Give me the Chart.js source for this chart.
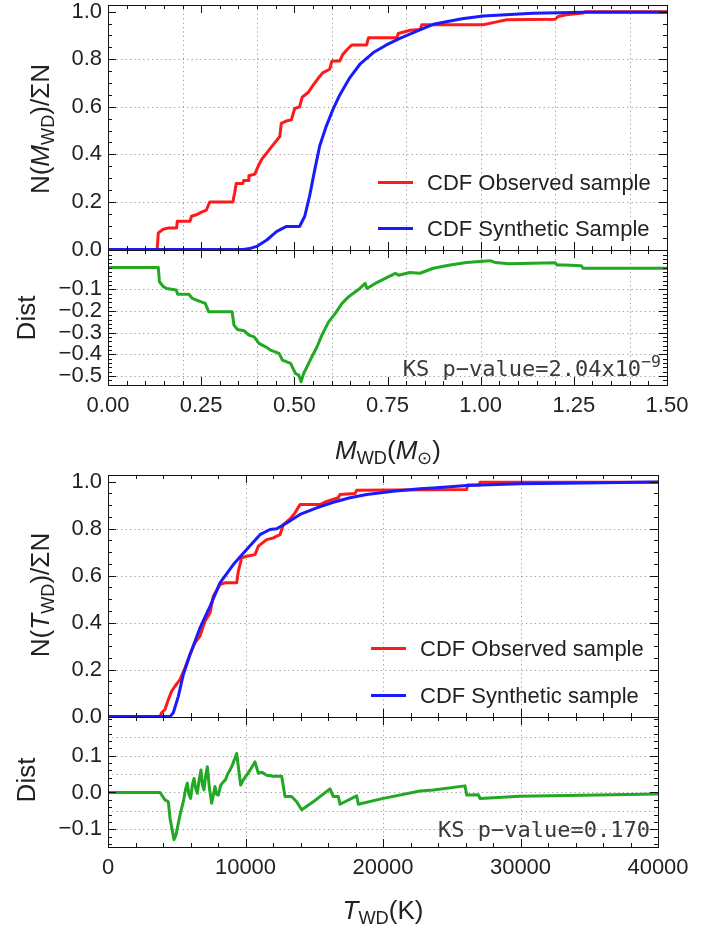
<!DOCTYPE html>
<html>
<head>
<meta charset="utf-8">
<script src="https://cdn.jsdelivr.net/npm/chart.js@4.4.1/dist/chart.umd.min.js"></script>
<style>
  html, body { margin: 0; padding: 0; background: #fff; }
  #wrap { position: relative; width: 724px; height: 937px; overflow: hidden; font-family: "Liberation Sans", Arial, sans-serif; color: #222; }
  canvas { position: absolute; left: 0; top: 0; }
  .t { position: absolute; white-space: nowrap; font-size: 26px; line-height: 1; }
  .rot { transform: translate(-50%, -50%) rotate(-90deg); }
  .ctr { transform: translate(-50%, -50%); }
  .t sub { font-size: 0.7em; vertical-align: -0.3em; font-style: normal; }
  .ks { position: absolute; font-family: "DejaVu Sans Mono", monospace; font-size: 22px; color: #3a3a3a; white-space: nowrap; line-height: 1; transform: translateY(-50%); }
  .ks sup { font-size: 0.75em; vertical-align: 0.55em; }
  .leg { position: absolute; font-size: 22px; white-space: nowrap; line-height: 1; transform: translateY(-50%); }
  .sw { position: absolute; height: 3px; width: 35px; }
</style>
</head>
<body>
<div id="wrap">
  <canvas id="cdfMass" width="724" height="937"></canvas>
  <canvas id="distMass" width="724" height="937"></canvas>
  <canvas id="cdfTemp" width="724" height="937"></canvas>
  <canvas id="distTemp" width="724" height="937"></canvas>

  <div class="t rot" style="left:42px; top:129px;">N(<i>M</i><sub>WD</sub>)/ΣN</div>
  <div class="t rot" style="left:26px; top:318px;">Dist</div>
  <div class="t ctr" style="left:388px; top:452px;"><i>M</i><sub>WD</sub>(<i>M</i><sub>⊙</sub>)</div>
  <div class="t rot" style="left:42px; top:595px;">N(<i>T</i><sub>WD</sub>)/ΣN</div>
  <div class="t rot" style="left:26px; top:780px;">Dist</div>
  <div class="t ctr" style="left:383px; top:912px;"><i>T</i><sub>WD</sub>(K)</div>

  <div class="sw" style="left:378px; top:181px; background:#ff1a1a;"></div>
  <div class="leg" style="left:427px; top:183px;">CDF Observed sample</div>
  <div class="sw" style="left:378px; top:227px; background:#1a1aff;"></div>
  <div class="leg" style="left:427px; top:229px;">CDF Synthetic Sample</div>

  <div class="sw" style="left:371px; top:647px; background:#ff1a1a;"></div>
  <div class="leg" style="left:420px; top:649px;">CDF Observed sample</div>
  <div class="sw" style="left:371px; top:694px; background:#1a1aff;"></div>
  <div class="leg" style="left:420px; top:696px;">CDF Synthetic sample</div>

  <div class="ks" style="right:63px; top:367px;">KS p−value=2.04x10<sup>−9</sup></div>
  <div class="ks" style="right:74px; top:830px;">KS p−value=0.170</div>
</div>
<script>
// mass CDFs
const massObsM = [0, 0.132, 0.135, 0.148, 0.161, 0.184, 0.186, 0.220, 0.224, 0.237, 0.251, 0.264, 0.273, 0.335, 0.340, 0.344, 0.362, 0.364, 0.376, 0.378, 0.394, 0.403, 0.412, 0.425, 0.443, 0.461, 0.465, 0.478, 0.492, 0.501, 0.514, 0.521, 0.537, 0.550, 0.564, 0.577, 0.595, 0.601, 0.622, 0.630, 0.641, 0.654, 0.694, 0.699, 0.775, 0.779, 0.811, 0.838, 0.842, 1.007, 1.043, 1.070, 1.200, 1.208, 1.230, 1.275, 1.280, 1.500];
const massObsN = [0, 0, 0.07, 0.085, 0.09, 0.09, 0.119, 0.119, 0.14, 0.146, 0.157, 0.166, 0.2, 0.2, 0.24, 0.278, 0.278, 0.29, 0.29, 0.31, 0.317, 0.35, 0.378, 0.404, 0.44, 0.475, 0.53, 0.54, 0.545, 0.593, 0.6, 0.64, 0.66, 0.69, 0.72, 0.744, 0.758, 0.793, 0.793, 0.82, 0.84, 0.86, 0.86, 0.89, 0.89, 0.908, 0.922, 0.925, 0.945, 0.945, 0.957, 0.966, 0.968, 0.98, 0.987, 0.994, 1.0, 1.0];
const massSynM = [0, 0.363, 0.380, 0.399, 0.426, 0.453, 0.479, 0.514, 0.528, 0.541, 0.555, 0.568, 0.586, 0.604, 0.622, 0.649, 0.676, 0.712, 0.747, 0.783, 0.837, 0.873, 0.950, 1.007, 1.140, 1.275, 1.500];
const massSynN = [0, 0, 0.004, 0.013, 0.04, 0.076, 0.097, 0.097, 0.14, 0.225, 0.337, 0.435, 0.52, 0.59, 0.65, 0.723, 0.779, 0.828, 0.86, 0.888, 0.923, 0.947, 0.97, 0.982, 0.993, 0.998, 0.998];
// mass distance
const distMassM = [0, 0.135, 0.138, 0.149, 0.157, 0.183, 0.187, 0.217, 0.226, 0.243, 0.261, 0.270, 0.333, 0.338, 0.347, 0.365, 0.378, 0.392, 0.405, 0.423, 0.436, 0.459, 0.468, 0.490, 0.503, 0.512, 0.518, 0.525, 0.534, 0.547, 0.561, 0.574, 0.592, 0.610, 0.628, 0.646, 0.673, 0.690, 0.695, 0.717, 0.744, 0.771, 0.780, 0.810, 0.837, 0.873, 0.918, 0.962, 1.025, 1.040, 1.075, 1.200, 1.205, 1.225, 1.270, 1.275, 1.500];
const distMassD = [0, 0, -0.065, -0.088, -0.096, -0.103, -0.123, -0.123, -0.142, -0.153, -0.165, -0.203, -0.203, -0.265, -0.285, -0.291, -0.311, -0.319, -0.349, -0.365, -0.38, -0.395, -0.426, -0.441, -0.488, -0.495, -0.526, -0.488, -0.457, -0.411, -0.365, -0.311, -0.25, -0.211, -0.165, -0.134, -0.1, -0.073, -0.096, -0.073, -0.05, -0.027, -0.035, -0.023, -0.026, -0.003, 0.012, 0.023, 0.032, 0.023, 0.018, 0.022, 0.012, 0.012, 0.008, -0.003, -0.003];
// temperature CDFs
const tempObsT = [0, 3782, 3900, 4145, 4387, 4630, 4873, 5236, 5600, 5964, 6327, 6690, 7054, 7418, 7660, 8145, 8509, 9358, 9478, 9721, 10085, 10690, 10933, 11540, 12024, 12509, 12751, 13236, 13600, 13964, 15418, 15903, 16751, 16873, 17964, 18085, 26087, 26150, 27000, 27054, 40000];
const tempObsN = [0, 0, 0.016, 0.03, 0.072, 0.108, 0.129, 0.157, 0.207, 0.264, 0.314, 0.342, 0.406, 0.441, 0.512, 0.562, 0.569, 0.569, 0.618, 0.675, 0.682, 0.689, 0.725, 0.753, 0.76, 0.774, 0.817, 0.841, 0.867, 0.902, 0.902, 0.916, 0.931, 0.945, 0.949, 0.963, 0.966, 0.985, 0.985, 0.997, 0.997];
const tempSynT = [0, 4509, 4751, 5115, 5478, 5964, 6690, 7418, 8145, 9115, 10085, 11054, 11782, 12266, 12994, 13964, 15176, 16387, 17600, 18812, 20750, 22690, 23660, 26087, 29964, 34570, 40000];
const tempSynN = [0, 0, 0.016, 0.086, 0.179, 0.264, 0.377, 0.469, 0.569, 0.647, 0.711, 0.774, 0.796, 0.799, 0.824, 0.86, 0.888, 0.912, 0.931, 0.945, 0.959, 0.969, 0.973, 0.983, 0.991, 0.994, 0.998];
// temperature distance
const distTempT = [0, 3782, 4145, 4387, 4509, 4800, 4945, 5236, 5478, 5650, 5770, 5880, 6012, 6130, 6254, 6380, 6496, 6630, 6763, 6870, 6981, 7100, 7224, 7380, 7539, 7782, 7900, 8024, 8200, 8388, 8550, 8700, 8873, 9050, 9358, 9648, 9850, 10085, 10400, 10690, 10933, 11200, 11540, 12024, 12630, 12873, 13357, 13720, 14085, 14930, 16145, 16387, 16750, 16873, 18085, 18206, 20024, 22690, 23660, 25964, 26087, 26933, 27054, 29964, 40000];
const distTempD = [0, 0, -0.02, -0.025, -0.07, -0.128, -0.115, -0.061, -0.025, 0.01, 0.025, -0.005, -0.016, 0.02, 0.038, 0.01, -0.002, 0.035, 0.061, 0.02, 0.007, 0.045, 0.07, 0.01, -0.029, 0.016, -0.005, -0.007, 0.02, 0.029, 0.035, 0.05, 0.061, 0.075, 0.106, 0.02, 0.035, 0.047, 0.065, 0.083, 0.052, 0.055, 0.047, 0.044, 0.044, -0.011, -0.011, -0.025, -0.047, -0.025, 0.01, -0.011, -0.011, -0.032, -0.009, -0.032, -0.016, 0.004, 0.007, 0.018, -0.007, -0.006, -0.016, -0.01, -0.004];

// tick labels and grid lines
const massTicks = [0, 0.25, 0.5, 0.75, 1.0, 1.25, 1.5];
const massGrid = [0.2, 0.4, 0.6, 0.8, 1.0, 1.2, 1.4];
const tempTicks = [0, 10000, 20000, 30000, 40000];
const tempGrid = [10000, 20000, 30000];
const cdfTicks = [0, 0.2, 0.4, 0.6, 0.8, 1.0];
const cdfGrid = [0.2, 0.4, 0.6, 0.8];
const distMassTicks = [-0.1, -0.2, -0.3, -0.4, -0.5];
const distMassGrid = [-0.1, -0.2, -0.3, -0.4, -0.5];
const distTempTicks = [0.1, 0, -0.1];
const distTempGrid = [0.15, 0.1, 0.05, 0, -0.05, -0.1];

const RED = '#ff1a1a', BLUE = '#1a1aff', GREEN = '#22a822';
const tickFont = { family: '"Liberation Sans", Arial, sans-serif', size: 22 };

function pts(xs, ys) {
    return xs.map((x, i) => ({ x: x, y: ys[i] }));
}
function minus(s) {
    return s.replace('-', '\u2212');
}

// dotted grid under the lines, frame with inward ticks on top
const frameTicks = {
    id: 'frameTicks',
    beforeDatasetsDraw(chart, args, o) {
        const { ctx, chartArea: a } = chart;
        const x = chart.scales.x, y = chart.scales.y;
        ctx.save();
        ctx.strokeStyle = '#999';
        ctx.lineWidth = 1;
        ctx.setLineDash([1.2, 3.2]);
        ctx.beginPath();
        o.xGrid.forEach(v => {
            const p = Math.round(x.getPixelForValue(v)) + 0.5;
            ctx.moveTo(p, a.top); ctx.lineTo(p, a.bottom);
        });
        o.yGrid.forEach(v => {
            const p = Math.round(y.getPixelForValue(v)) + 0.5;
            ctx.moveTo(a.left, p); ctx.lineTo(a.right, p);
        });
        ctx.stroke();
        ctx.restore();
    },
    afterDatasetsDraw(chart, args, o) {
        const { ctx, chartArea: a } = chart;
        const x = chart.scales.x, y = chart.scales.y;
        ctx.save();
        ctx.strokeStyle = '#111';
        ctx.lineWidth = 1;
        ctx.beginPath();
        const tick = (scale, step, majors, horiz) => {
            const i0 = Math.ceil(scale.min / step - 1e-6), i1 = Math.floor(scale.max / step + 1e-6);
            for (let i = i0; i <= i1; i++) {
                const v = i * step;
                const big = majors.some(m => Math.abs(m - v) < step / 10);
                const len = big ? 8 : 4;
                const p = Math.round(scale.getPixelForValue(v)) + 0.5;
                if (horiz) {
                    ctx.moveTo(p, a.bottom); ctx.lineTo(p, a.bottom - len);
                    ctx.moveTo(p, a.top); ctx.lineTo(p, a.top + len);
                } else {
                    ctx.moveTo(a.left, p); ctx.lineTo(a.left + len, p);
                    ctx.moveTo(a.right, p); ctx.lineTo(a.right - len, p);
                }
            }
        };
        tick(x, o.xMinor, o.xMajor, true);
        tick(y, o.yMinor, o.yMajor, false);
        ctx.stroke();
        ctx.strokeRect(Math.round(a.left) + 0.5, Math.round(a.top) + 0.5, Math.round(a.right - a.left), Math.round(a.bottom - a.top));
        ctx.restore();
    }
};

function panel(id, box, xr, yr, datasets, xt, yt, grid, minor, fmtX, fmtY, showX) {
    const xh = showX ? 40 : 0;
    return new Chart(document.getElementById(id), {
        type: 'line',
        data: { datasets: datasets },
        options: {
            responsive: false,
            animation: false,
            events: [],
            layout: {
                padding: { left: 0, top: box.top, right: 724 - box.right, bottom: 937 - box.bottom - xh }
            },
            elements: {
                point: { radius: 0 },
                line: { borderWidth: 3, tension: 0, borderJoinStyle: 'round' }
            },
            plugins: {
                legend: { display: false },
                tooltip: { enabled: false },
                frameTicks: {
                    xGrid: grid[0], yGrid: grid[1],
                    xMajor: xt, yMajor: yt,
                    xMinor: minor[0], yMinor: minor[1]
                }
            },
            scales: {
                x: {
                    type: 'linear',
                    min: xr[0], max: xr[1],
                    grid: { display: false, drawTicks: false },
                    border: { display: false },
                    ticks: {
                        display: showX, autoSkip: false, maxRotation: 0, padding: 8,
                        color: '#222', font: tickFont,
                        callback: v => fmtX(v)
                    },
                    afterBuildTicks: s => { s.ticks = xt.map(v => ({ value: v })); },
                    afterFit: s => {
                        s.height = xh;
                        s.paddingLeft = 0; s.paddingRight = 0;
                    }
                },
                y: {
                    type: 'linear',
                    min: yr[0], max: yr[1],
                    grid: { display: false, drawTicks: false },
                    border: { display: false },
                    ticks: {
                        autoSkip: false, padding: 6,
                        color: '#222', font: tickFont,
                        callback: v => fmtY(v)
                    },
                    afterBuildTicks: s => { s.ticks = yt.map(v => ({ value: v })); },
                    afterFit: s => {
                        s.width = box.left;
                        s.paddingTop = 0; s.paddingBottom = 0;
                    }
                }
            }
        },
        plugins: [frameTicks]
    });
}

const f1 = v => minus(v.toFixed(1));
const f2 = v => v.toFixed(2);
const f0 = v => String(v);

panel('cdfMass', { left: 108, right: 667, top: 5, bottom: 250 }, [0, 1.5], [-0.002, 1.028], [
    { label: 'CDF Synthetic Sample', data: pts(massSynM, massSynN), borderColor: BLUE, order: 0 },
    { label: 'CDF Observed sample', data: pts(massObsM, massObsN), borderColor: RED, order: 1 }
], massTicks, cdfTicks, [massGrid, cdfGrid], [0.05, 0.05], f2, f1, false);

panel('distMass', { left: 108, right: 667, top: 250, bottom: 385 }, [0, 1.5], [-0.541, 0.081], [
    { label: 'Dist', data: pts(distMassM, distMassD), borderColor: GREEN }
], massTicks, distMassTicks, [massGrid, distMassGrid], [0.05, 0.02], f2, f1, true);

panel('cdfTemp', { left: 108, right: 658, top: 475, bottom: 717 }, [0, 40000], [-0.002, 1.028], [
    { label: 'CDF Synthetic sample', data: pts(tempSynT, tempSynN), borderColor: BLUE, order: 0 },
    { label: 'CDF Observed sample', data: pts(tempObsT, tempObsN), borderColor: RED, order: 1 }
], tempTicks, cdfTicks, [tempGrid, cdfGrid], [2000, 0.05], f0, f1, false);

panel('distTemp', { left: 108, right: 658, top: 717, bottom: 847 }, [0, 40000], [-0.148, 0.205], [
    { label: 'Dist', data: pts(distTempT, distTempD), borderColor: GREEN }
], tempTicks, distTempTicks, [tempGrid, distTempGrid], [2000, 0.02], f0, f1, true);
</script>
</body>
</html>
